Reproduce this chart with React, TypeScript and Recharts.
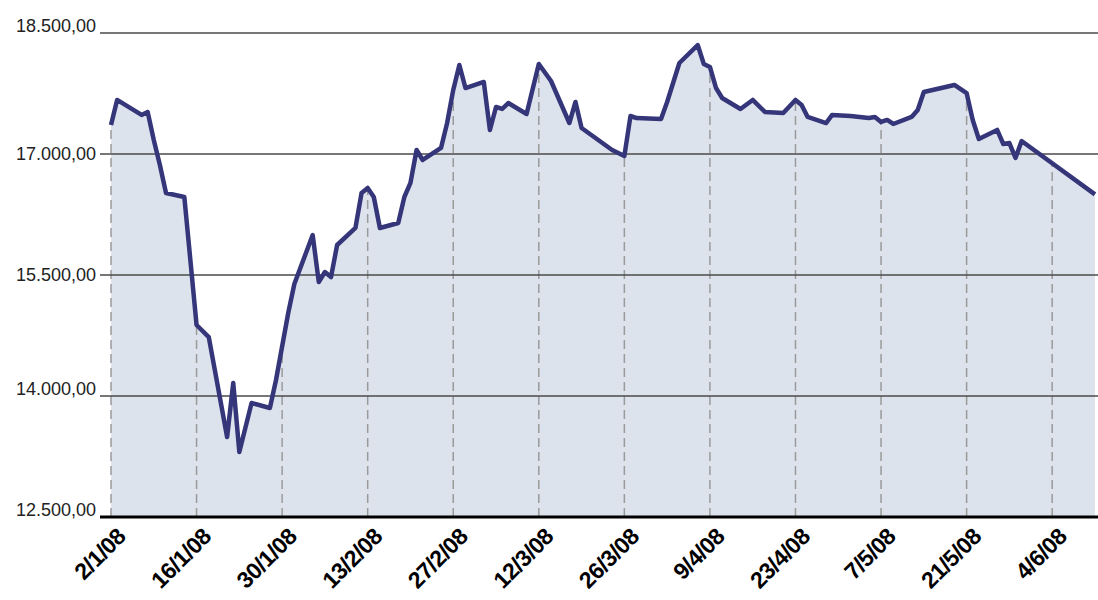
import { Area, CartesianGrid, ComposedChart, Line, ReferenceLine, XAxis, YAxis } from "recharts";

// Cierres diarios (fecha d/m/aa, valor)
const DATES = [
  "2/1/08", "3/1/08", "7/1/08", "8/1/08", "9/1/08", "10/1/08", "11/1/08", "14/1/08", "16/1/08", "18/1/08",
  "21/1/08", "22/1/08", "23/1/08", "25/1/08", "28/1/08", "29/1/08", "31/1/08", "1/2/08", "4/2/08", "5/2/08",
  "6/2/08", "7/2/08", "8/2/08", "11/2/08", "12/2/08", "13/2/08", "14/2/08", "15/2/08", "18/2/08", "19/2/08",
  "20/2/08", "21/2/08", "22/2/08", "25/2/08", "26/2/08", "27/2/08", "28/2/08", "29/2/08", "3/3/08", "4/3/08",
  "5/3/08", "6/3/08", "7/3/08", "10/3/08", "12/3/08", "14/3/08", "17/3/08", "18/3/08", "19/3/08", "24/3/08",
  "26/3/08", "27/3/08", "28/3/08", "1/4/08", "2/4/08", "4/4/08", "7/4/08", "8/4/08", "9/4/08", "10/4/08",
  "11/4/08", "14/4/08", "16/4/08", "18/4/08", "21/4/08", "23/4/08", "24/4/08", "25/4/08", "28/4/08", "29/4/08",
  "2/5/08", "5/5/08", "6/5/08", "7/5/08", "8/5/08", "9/5/08", "12/5/08", "13/5/08", "14/5/08", "19/5/08",
  "21/5/08", "22/5/08", "23/5/08", "26/5/08", "27/5/08", "28/5/08", "29/5/08", "30/5/08", "11/6/08",
];

const VALUES = [
  17360, 17670, 17484, 17521, 17174, 16864, 16517, 16467, 14880, 14731,
  13492, 14161, 13306, 13913, 13851, 14198, 15029, 15388, 15996, 15413,
  15537, 15475, 15872, 16083, 16517, 16579, 16467, 16083, 16145, 16467,
  16641, 17050, 16926, 17075, 17384, 17794, 18103, 17818, 17893, 17298,
  17583, 17558, 17632, 17496, 18116, 17905, 17384, 17645, 17322, 17050,
  16975, 17471, 17446, 17434, 17645, 18128, 18351, 18116, 18079, 17818,
  17694, 17558, 17670, 17521, 17508, 17670, 17608, 17459, 17384, 17484,
  17471, 17446, 17459, 17397, 17422, 17372, 17459, 17546, 17769, 17856,
  17756, 17422, 17186, 17298, 17124, 17136, 16951, 17161, 16500,
];

const TICK_LABELS = [
  "2/1/08", "16/1/08", "30/1/08", "13/2/08", "27/2/08", "12/3/08",
  "26/3/08", "9/4/08", "23/4/08", "7/5/08", "21/5/08", "4/6/08",
];

const Y_TICKS = [12500, 14000, 15500, 17000, 18500];
const Y_BOTTOM = 12500;
const Y_TOP = 18500;

const parseDate = (s: string) => {
  const [d, m, y] = s.split("/").map(Number);
  return Date.UTC(2000 + y, m - 1, d);
};
const DAY0 = parseDate(DATES[0]);
const toDay = (s: string) => Math.round((parseDate(s) - DAY0) / 864e5);

const rows = DATES.map((d, i) => ({ day: toDay(d), value: VALUES[i] }));
const xTicks = TICK_LABELS.map(toDay);

// 18500 -> "18.500,00"
const fmtEs = (v: number) => {
  const [int, dec] = v.toFixed(2).split(".");
  return int.replace(/\B(?=(\d{3})+(?!\d))/g, ".") + "," + dec;
};

const LINE = "#35357a";
const FILL = "#dde3ec";
const FONT = "'Liberation Sans', Arial, sans-serif";

// eslint-disable-next-line @typescript-eslint/no-explicit-any
function YTick(props: any) {
  const { x, y, payload } = props;
  const v = payload.value as number;
  // algunas etiquetas van centradas en la línea, otras apoyadas encima
  const centered = v === 17000 || v === 15500;
  return (
    <text x={x} y={y} dy={centered ? 6 : -1} textAnchor="end" fill="#222" fontSize={18} fontFamily={FONT}>
      {fmtEs(v)}
    </text>
  );
}

// eslint-disable-next-line @typescript-eslint/no-explicit-any
function XTick(props: any) {
  const { x, y, payload } = props;
  const i = xTicks.indexOf(payload.value);
  const tx = x + 16;
  const ty = y + 21;
  return (
    <text
      x={tx}
      y={ty}
      transform={`rotate(-45, ${tx}, ${ty})`}
      textAnchor="end"
      fill="#000"
      fontSize={23}
      fontWeight="bold"
      fontFamily={FONT}
      letterSpacing={-0.5}
    >
      {TICK_LABELS[i] ?? ""}
    </text>
  );
}

export default function App() {
  const first = rows[0];
  return (
    <div style={{ position: "absolute", left: 0, top: 0, background: "#fff" }}>
      <ComposedChart width={1098} height={600} data={rows} margin={{ top: 33, right: 0, bottom: 0, left: 0 }}>
        <XAxis
          dataKey="day"
          type="number"
          domain={[0, 161.5]}
          ticks={xTicks}
          padding={{ left: 11, right: 0 }}
          height={83}
          tickSize={0}
          tickMargin={0}
          tick={<XTick />}
          axisLine={{ stroke: "#000", strokeWidth: 3 }}
          tickLine={false}
          interval={0}
        />
        <YAxis
          type="number"
          domain={[Y_BOTTOM, Y_TOP]}
          ticks={Y_TICKS}
          width={100}
          tickSize={0}
          tickMargin={4}
          tick={<YTick />}
          axisLine={false}
          tickLine={false}
          interval={0}
        />
        {/* relleno bajo la curva */}
        <Area
          dataKey="value"
          type="linear"
          stroke="none"
          fill={FILL}
          fillOpacity={1}
          isAnimationActive={false}
          zIndex={-400}
        />
        {/* verticales discontinuas; la parte sobre la curva la tapa el área blanca */}
        {xTicks.map((d) =>
          d === first.day ? (
            <ReferenceLine
              key={d}
              segment={[
                { x: d, y: Y_BOTTOM },
                { x: d, y: first.value },
              ]}
              stroke="#9a9a9a"
              strokeWidth={1.5}
              strokeDasharray="9 5"
              zIndex={-350}
            />
          ) : (
            <ReferenceLine
              key={d}
              x={d}
              stroke="#9a9a9a"
              strokeWidth={1.5}
              strokeDasharray="9 5"
              zIndex={-350}
            />
          ),
        )}
        <Area
          dataKey={(r: { value: number }) => [r.value, Y_TOP]}
          type="linear"
          stroke="none"
          fill="#fff"
          fillOpacity={1}
          isAnimationActive={false}
          zIndex={-300}
        />
        <CartesianGrid horizontal vertical={false} stroke="#4a4a4a" strokeWidth={1.5} zIndex={-100} />
        <Line
          dataKey="value"
          type="linear"
          stroke={LINE}
          strokeWidth={4.5}
          strokeLinejoin="round"
          dot={false}
          activeDot={false}
          isAnimationActive={false}
        />
      </ComposedChart>
    </div>
  );
}
